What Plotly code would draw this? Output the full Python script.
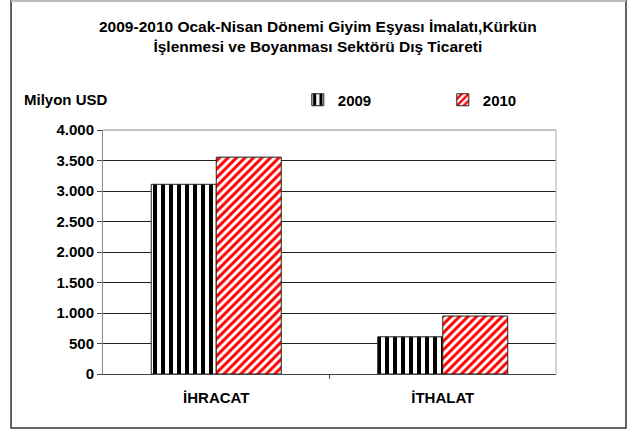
import plotly.graph_objects as go

# data (million USD)
categories = ["İHRACAT", "İTHALAT"]
years = ["2009", "2010"]
values_2009 = [3110, 610]
values_2010 = [3555, 950]

title_lines = ["2009-2010 Ocak-Nisan Dönemi Giyim Eşyası İmalatı,Kürkün",
               "İşlenmesi ve Boyanması Sektörü Dış Ticareti"]

FONT = "Liberation Sans, Arial, sans-serif"

fig = go.Figure()
fig.add_trace(go.Bar(
    x=categories, y=values_2009, name=years[0],
    marker=dict(color="white",
                line=dict(color="#222222", width=1),
                pattern=dict(shape="|", fgcolor="black", bgcolor="white",
                             size=8, solidity=0.5, fillmode="replace")),
))
fig.add_trace(go.Bar(
    x=categories, y=values_2010, name=years[1],
    marker=dict(color="white",
                line=dict(color="#222222", width=1),
                pattern=dict(shape="/", fgcolor="#ff0000", bgcolor="white",
                             size=6, solidity=0.5, fillmode="replace")),
))

fig.update_layout(
    width=628, height=432,
    margin=dict(l=103, r=72, t=130, b=58),
    paper_bgcolor="white", plot_bgcolor="white",
    font=dict(family=FONT, size=15, color="black"),
    separators=",.",
    barmode="group", bargap=0.426, bargroupgap=0,
    showlegend=True,
    legend=dict(orientation="h", x=0.43, y=1.123, xanchor="left", yanchor="middle",
                entrywidth=100, entrywidthmode="pixels",
                font=dict(family=FONT, size=15, color="black", weight="bold"),
                itemwidth=30, bgcolor="rgba(0,0,0,0)"),
    hovermode=False,
)

fig.update_yaxes(range=[0, 4000], dtick=500, tickformat=",d",
                 showgrid=True, gridcolor="#222222", gridwidth=1,
                 showline=True, linecolor="#888888", linewidth=1,
                 ticks="outside", ticklen=5, tickcolor="#444444",
                 tickfont=dict(family=FONT, size=15, weight="bold"),
                 zeroline=False)
fig.update_xaxes(showline=True, linecolor="#444444", linewidth=1,
                 ticks="", tickfont=dict(family=FONT, size=15, weight="bold"),
                 ticklabelstandoff=10)

# top and right edges of the plot area
fig.add_shape(type="line", xref="paper", yref="paper", x0=0, x1=1, y0=1, y1=1,
              line=dict(color="#888888", width=1))
fig.add_shape(type="line", xref="paper", yref="paper", x0=1, x1=1, y0=0, y1=1,
              line=dict(color="#aaaaaa", width=1))
# tick between categories
fig.add_shape(type="line", xref="paper", yref="paper", x0=0.5, x1=0.5, y0=0, y1=-0.02,
              line=dict(color="#444444", width=1))

# outer chart border
fig.add_shape(type="rect", xref="paper", yref="paper",
              x0=-0.203, x1=1.1545, y0=-0.221, y1=1.53,
              line=dict(color="#333333", width=1.5))
fig.add_shape(type="line", xref="paper", yref="paper",
              x0=-0.203, x1=1.1545, y0=1.529, y1=1.529,
              line=dict(color="#bbbbbb", width=2))

fig.add_annotation(text="<b>" + title_lines[0] + "<br>" + title_lines[1] + "</b>",
                   xref="paper", yref="paper", x=0.474, y=1.383,
                   xanchor="center", yanchor="middle", showarrow=False,
                   font=dict(family=FONT, size=15.5, color="black"))
fig.add_annotation(text="<b>Milyon USD</b>", xref="paper", yref="paper",
                   x=-0.178, y=1.123, xanchor="left", yanchor="middle",
                   showarrow=False, font=dict(family=FONT, size=15, color="black"))

fig.write_html("out.html", config={"displayModeBar": False},
               post_script="document.body.style.margin='0';")
